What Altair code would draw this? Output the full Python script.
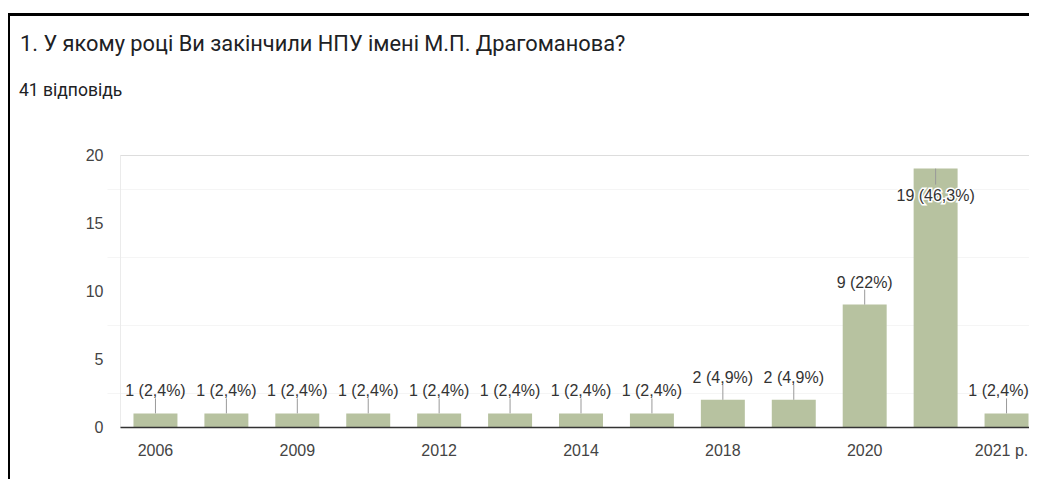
import altair as alt
import pandas as pd

title_text = "1. У якому році Ви закінчили НПУ імені М.П. Драгоманова?"
subtitle_text = "41 відповідь"
years = ["2006", "2008", "2009", "2010", "2012", "2013", "2014", "2016",
         "2018", "2019", "2020", "2021", "2021 р."]
counts = [1, 1, 1, 1, 1, 1, 1, 1, 2, 2, 9, 19, 1]
shown_years = ["2006", "2009", "2012", "2014", "2018", "2020", "2021 р."]
y_ticks = [0, 5, 10, 15, 20]
y_minor = [2.5, 7.5, 12.5, 17.5]
total = sum(counts)


def fmt(v):
    p = round(v * 100 / total, 1)
    s = f"{p:.1f}".rstrip("0").rstrip(".").replace(".", ",")
    return f"{v} ({s}%)"


df = pd.DataFrame({"year": years, "count": counts, "label": [fmt(v) for v in counts]})

FONT = "Liberation Sans"
BAR = "#b7c2a0"
TXT = "#333333"
LAST = years[-1]

x_enc = alt.X(
    "year:N",
    sort=years,
    scale=alt.Scale(range=[0, 922], paddingInner=0.38, paddingOuter=0.19),
    axis=alt.Axis(values=shown_years, title=None, labelAngle=0, ticks=False,
                  domainColor="#333333", domainWidth=1.5, labelFont=FONT,
                  labelFontSize=16, labelColor="#444444", labelPadding=15,
                  grid=False, zindex=1, labelOverlap=False,
                  labelOffset={"condition": {"test": f"datum.value == '{LAST}'",
                                             "value": -5},
                               "value": 0}),
)
y_scale = alt.Scale(domain=[0, 20], nice=False)
y_plain = alt.Y("count:Q", scale=y_scale, axis=None)

base = alt.Chart(df)

minor = base.mark_rule(opacity=0).encode(
    x=x_enc,
    y=alt.Y("count:Q", scale=y_scale,
            axis=alt.Axis(values=y_minor, title=None, ticks=False, labels=False,
                          domain=False, grid=True, gridColor="#f5f5f5",
                          orient="right")),
)

bars = base.mark_bar(color=BAR).encode(
    x=x_enc,
    y=alt.Y("count:Q", scale=y_scale,
            axis=alt.Axis(values=y_ticks, title=None, ticks=False,
                          domainColor="#ebebeb", gridColor="#ebebeb",
                          labelFont=FONT, labelFontSize=16, labelColor="#444444",
                          labelPadding=17, orient="left")),
)

outside = base.transform_filter("datum.count < 18")
outside_mid = outside.transform_filter(f"datum.year != '{LAST}'")
outside_last = outside.transform_filter(f"datum.year == '{LAST}'")
inside = base.transform_filter("datum.count >= 18")

lead_out = outside.mark_rule(color="#999999", strokeWidth=1, y2Offset=-15).encode(
    x=x_enc, y=y_plain, y2="count:Q")
text_out = outside_mid.mark_text(font=FONT, fontSize=16, color=TXT, baseline="middle",
                                 dy=-22).encode(x=x_enc, y=y_plain, text="label:N")
text_last = outside_last.mark_text(font=FONT, fontSize=16, color=TXT, baseline="middle",
                                   dy=-22, dx=-8).encode(x=x_enc, y=y_plain, text="label:N")

lead_in = inside.mark_rule(color="#999999", strokeWidth=1, y2Offset=16).encode(
    x=x_enc, y=y_plain, y2="count:Q")
halo_in = inside.mark_text(font=FONT, fontSize=16, color="white", stroke="white",
                           strokeWidth=3, baseline="middle", dy=27).encode(
    x=x_enc, y=y_plain, text="label:N")
text_in = inside.mark_text(font=FONT, fontSize=16, color=TXT, baseline="middle",
                           dy=27).encode(x=x_enc, y=y_plain, text="label:N")

title = alt.Chart(pd.DataFrame({"t": [title_text]})).mark_text(
    align="left", baseline="alphabetic", font="Roboto", fontSize=21.8, color="#202124"
).encode(x=alt.value(-100), y=alt.value(-104), text="t:N")

subtitle = alt.Chart(pd.DataFrame({"t": [subtitle_text]})).mark_text(
    align="left", baseline="alphabetic", font="Roboto", fontSize=17.5, color="#202124"
).encode(x=alt.value(-101), y=alt.value(-59), text="t:N")

frame_df = pd.DataFrame({"k": [0]})
frame_top = alt.Chart(frame_df).mark_rule(color="black", strokeWidth=3).encode(
    x=alt.value(-115), x2=alt.value(960), y=alt.value(-140.5))
frame_left = alt.Chart(frame_df).mark_rule(color="black", strokeWidth=2).encode(
    x=alt.value(-111), y=alt.value(-142), y2=alt.value(340))

chart = alt.layer(
    minor, bars, lead_out, text_out, text_last, lead_in, halo_in, text_in,
    title, subtitle, frame_top, frame_left
).resolve_axis(y="independent").properties(
    width=909, height=272,
    autosize=alt.AutoSizeParams(type="none"),
    padding={"left": 112, "top": 147, "right": 0, "bottom": 52},
).configure_view(stroke=None).configure(background="white")

chart.save("out.html", embed_options={"renderer": "svg", "actions": False})
